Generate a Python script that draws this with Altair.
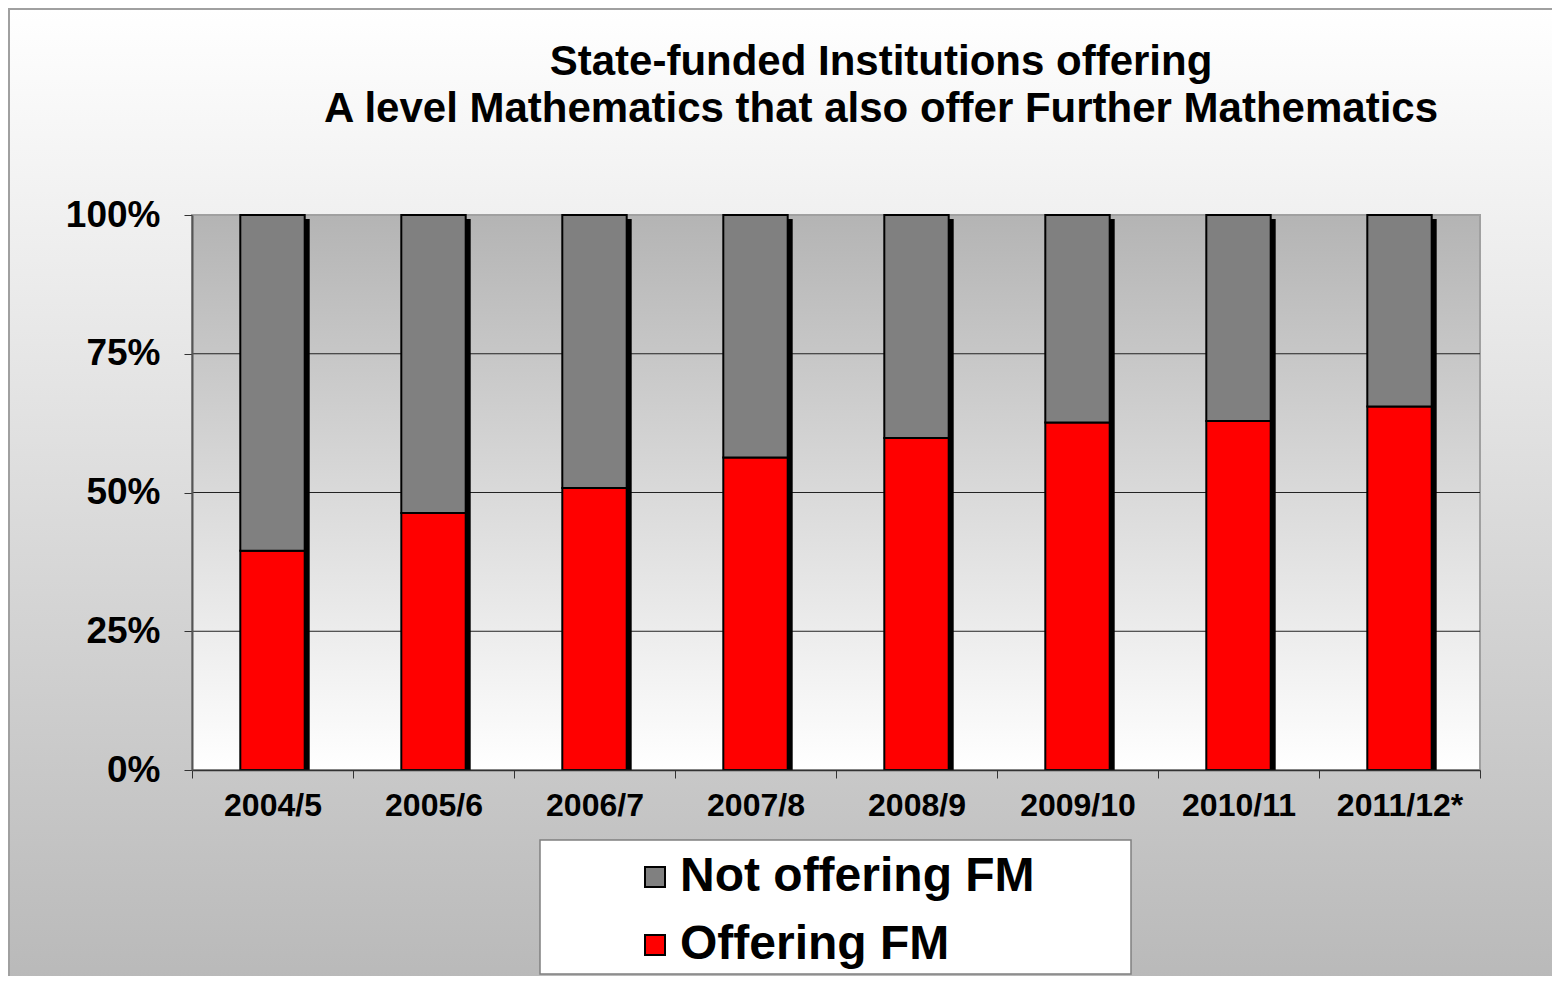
import altair as alt
import pandas as pd

# ---- data ----
years = ["2004/5", "2005/6", "2006/7", "2007/8", "2008/9", "2009/10", "2010/11", "2011/12*"]
offering = [0.395, 0.463, 0.508, 0.563, 0.598, 0.626, 0.629, 0.655]
not_offering = [0.605, 0.537, 0.492, 0.437, 0.402, 0.374, 0.371, 0.345]
totals = [1.0, 1.0, 1.0, 1.0, 1.0, 1.0, 1.0, 1.0]
status_names = ["Not offering FM", "Offering FM"]
status_colors = ["#808080", "#ff0000"]
grid_values = [0.25, 0.5, 0.75]
y_ticks = [0, 0.25, 0.5, 0.75, 1.0]
title_lines = ["State-funded Institutions offering",
               "A level Mathematics that also offer Further Mathematics"]

FONT = "Liberation Sans"
W, H = 1288, 555
PAD = {"left": 184, "top": 207, "right": 72, "bottom": 206}

rows = []
for yr, o, n in zip(years, offering, not_offering):
    rows.append({"year": yr, "status": "Offering FM", "value": o, "ord": 0})
    rows.append({"year": yr, "status": "Not offering FM", "value": n, "ord": 1})
df = pd.DataFrame(rows)

xscale = alt.Scale(paddingInner=0, paddingOuter=0)
yscale = alt.Scale(domain=[0, 1], nice=False, zero=True)

xaxis = alt.Axis(title=None, labelAngle=0, tickBand="extent", tickSize=8,
                 labelPadding=12, labelFontSize=32, grid=False, zindex=1,
                 domainColor="#333333", domainWidth=1.5, tickColor="#333333")
yaxis = alt.Axis(title=None, values=y_ticks, format=".0%", tickSize=8,
                 labelPadding=24, labelFontSize=37, grid=False, zindex=1,
                 domainColor="#555555", domainWidth=2, tickColor="#333333")

one = pd.DataFrame({"k": [0]})

fig_bg = alt.Chart(one).mark_rect(
    fill=alt.LinearGradient(gradient="linear", x1=0, y1=0, x2=0, y2=1,
                            stops=[alt.GradientStop(offset=0, color="#ffffff"),
                                   alt.GradientStop(offset=1, color="#b8b8b8")]),
    stroke="#a0a0a0", strokeWidth=2,
).encode(
    x=alt.value(-PAD["left"] + 1), x2=alt.value(W + PAD["right"] + 20),
    y=alt.value(-PAD["top"] + 1), y2=alt.value(H + PAD["bottom"] + 20),
)

plot_bg = alt.Chart(one).mark_rect(
    fill=alt.LinearGradient(gradient="linear", x1=0, y1=0, x2=0, y2=1,
                            stops=[alt.GradientStop(offset=0, color="#b4b4b4"),
                                   alt.GradientStop(offset=1, color="#ffffff")]),
    stroke="#a0a0a0", strokeWidth=2,
).encode(x=alt.value(0), x2=alt.value(W), y=alt.value(0), y2=alt.value(H))

grid = alt.Chart(pd.DataFrame({"v": grid_values})).mark_rule(
    color="#222222", strokeWidth=1
).encode(
    y=alt.Y("v:Q", scale=yscale, axis=yaxis),
    x=alt.value(0), x2=alt.value(W),
)

shadow = alt.Chart(pd.DataFrame({"year": years, "total": totals})).mark_bar(
    color="black", xOffset=5, yOffset=4, width=alt.RelativeBandSize(0.4)
).encode(
    x=alt.X("year:N", sort=years, scale=xscale, axis=xaxis),
    y=alt.Y("total:Q", stack=None, scale=yscale, axis=yaxis),
)

bars = alt.Chart(df).mark_bar(stroke="black", strokeWidth=2, opacity=1,
                              width=alt.RelativeBandSize(0.4)).encode(
    x=alt.X("year:N", sort=years, scale=xscale, axis=xaxis),
    y=alt.Y("value:Q", stack="zero", scale=yscale, axis=yaxis),
    color=alt.Color("status:N", scale=alt.Scale(domain=status_names, range=status_colors),
                    legend=alt.Legend(title=None, orient="none", legendX=439, legendY=638,
                                      labelFont=FONT, labelFontSize=48, labelFontWeight="bold",
                                      labelColor="black", symbolType="square", symbolSize=400,
                                      symbolStrokeColor="black", symbolStrokeWidth=2,
                                      symbolOpacity=1, rowPadding=20, labelOffset=1,
                                      padding=0, labelLimit=0, zindex=1)),
    order=alt.Order("ord:Q"),
)

legend_box = alt.Chart(one).mark_rect(fill="white", stroke="#808080", strokeWidth=1.5).encode(
    x=alt.value(348), x2=alt.value(939), y=alt.value(625), y2=alt.value(759)
)

chart = alt.layer(fig_bg, plot_bg, grid, shadow, bars, legend_box).properties(
    width=W, height=H,
    padding=PAD,
    autosize=alt.AutoSizeParams(type="none"),
    title=alt.TitleParams(text=title_lines, font=FONT, fontSize=42, fontWeight="bold",
                          color="black", anchor="middle", dx=45, offset=-123,
                          lineHeight=47, zindex=1),
).configure_view(stroke=None).configure_axis(
    labelFont=FONT, labelFontWeight="bold", labelColor="black"
)

chart.save("out.html", embed_options={"renderer": "svg", "actions": False})
